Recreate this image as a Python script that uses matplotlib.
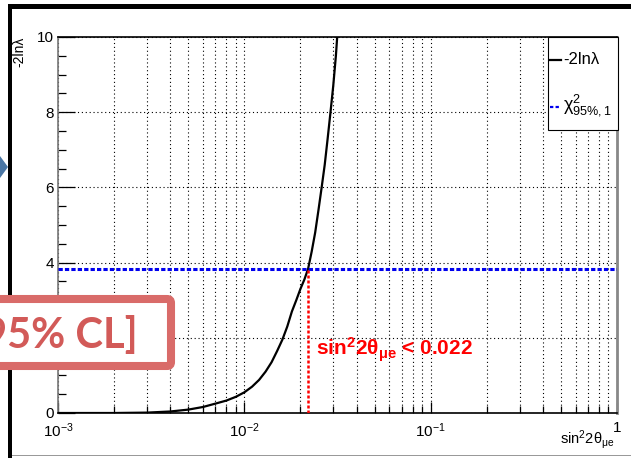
import matplotlib
matplotlib.use('Agg')
import matplotlib.pyplot as plt
from matplotlib.ticker import MultipleLocator, LogLocator, NullFormatter
from matplotlib.patches import FancyBboxPatch, Polygon, Rectangle

plt.rcParams['font.family'] = ['Liberation Sans', 'DejaVu Sans']
plt.rcParams['mathtext.fontset'] = 'custom'
plt.rcParams['mathtext.rm'] = 'Liberation Sans'
plt.rcParams['mathtext.it'] = 'Liberation Sans:italic'
plt.rcParams['mathtext.bf'] = 'Liberation Sans:bold'

# ---- data ----
sin2 = [0.001, 0.002, 0.003, 0.004, 0.005, 0.006, 0.007, 0.008, 0.009, 0.010,
        0.011, 0.012, 0.013, 0.014, 0.015, 0.016, 0.017, 0.018, 0.019, 0.020,
        0.021, 0.022, 0.023, 0.024, 0.025, 0.026, 0.027, 0.028, 0.029, 0.030,
        0.031, 0.0315]
m2lnl = [0.0, 0.0, 0.01, 0.04, 0.09, 0.16, 0.25, 0.33, 0.43, 0.55,
         0.70, 0.88, 1.10, 1.35, 1.65, 1.95, 2.30, 2.70, 3.00, 3.30,
         3.55, 3.84, 4.30, 4.80, 5.40, 6.00, 6.60, 7.30, 8.00, 8.70,
         9.50, 10.0]
chi2_95 = 3.84
limit = 0.022
xticks = [1e-3, 1e-2, 1e-1, 1]
xticklabels = ['$10^{-3}$', '$10^{-2}$', '$10^{-1}$', '1']

W, H = 631, 458
fig = plt.figure(figsize=(W / 100, H / 100), dpi=100)


def px(x0, y0, x1, y1):
    return [x0 / W, 1 - y1 / H, (x1 - x0) / W, (y1 - y0) / H]


ax = fig.add_axes(px(58, 37, 617, 413))
ax.set_xscale('log')
ax.set_xlim(1e-3, 1)
ax.set_ylim(0, 10)

ax.plot(sin2, m2lnl, color='black', lw=1.6, zorder=3)
ax.axhline(chi2_95, color='#0000ee', lw=2.2, ls=(0, (1.4, 0.7)), zorder=4)
ax.plot([limit, limit], [0, chi2_95], color='#ff0000', lw=1.8,
        ls=(0, (1.2, 0.8)), zorder=4)

ax.set_xticks(xticks)
ax.set_xticklabels(xticklabels)
ax.xaxis.set_minor_locator(LogLocator(base=10, subs=range(2, 10)))
ax.xaxis.set_minor_formatter(NullFormatter())
ax.yaxis.set_major_locator(MultipleLocator(2))
ax.yaxis.set_minor_locator(MultipleLocator(0.5))

ax.grid(which='major', axis='both', color='black', ls=(0, (1, 2.5)), lw=0.8)
ax.grid(which='minor', axis='x', color='black', ls=(0, (1, 2.5)), lw=0.8)

ax.tick_params(axis='x', which='major', direction='in', length=8, width=0.9,
               labelsize=11, pad=6)
ax.tick_params(axis='x', which='minor', direction='in', length=5, width=0.9)
ax.tick_params(axis='y', which='major', direction='in', length=12, width=0.9,
               labelsize=11, pad=3)
ax.tick_params(axis='y', which='minor', direction='in', length=6, width=0.9)

ax.spines['left'].set_color('#777777')
ax.spines['left'].set_linewidth(1.2)
ax.spines['right'].set_color('#888888')
ax.spines['right'].set_linewidth(2)
ax.spines['top'].set_linewidth(1.2)
ax.spines['bottom'].set_linewidth(1.2)

# ---- overlay in pixel coordinates ----
ov = fig.add_axes([0, 0, 1, 1], zorder=10)
ov.set_xlim(0, W)
ov.set_ylim(H, 0)
ov.axis('off')

# legend
ov.add_patch(Rectangle((548, 37), 70, 93, fc='white', ec='black', lw=0.8))
ov.plot([550, 561], [60, 60], color='black', lw=1.6)
ov.text(563, 60, '-2lnλ', fontsize=12, va='center', ha='left')
ov.plot([550, 561], [107, 107], color='#0000ee', lw=1.6, ls=(0, (1.5, 1)))
ov.text(563, 105, 'χ$^{2}_{95\\%,1}$', fontsize=13, va='center', ha='left')

# axis titles
ov.text(19, 37, '-2lnλ', fontsize=10, rotation=90, ha='center', va='top')
ov.text(614, 444, 'sin$^{2}$2θ$_{\\mathrm{μe}}$', fontsize=10.5,
        ha='right', va='baseline')

# limit annotation
ov.text(316, 350, 'sin$^{\\mathbf{2}}$2θ$_{\\mathbf{μe}}$ < 0.022',
        fontsize=15, fontweight='bold', color='#ff0000', ha='left', va='center')

# slide decorations
ov.add_patch(Rectangle((8, 4), W - 8, 5, color='black', lw=0))
ov.add_patch(Rectangle((8, 4), 4, H - 4, color='black', lw=0))
ov.add_patch(Rectangle((12, 454.5), W - 12, 1.5, color='#999999', lw=0))
ov.add_patch(Polygon([(0, 156), (8, 167), (0, 178)], closed=True,
                     color='#4a76a4', lw=0))
ov.add_patch(FancyBboxPatch((-20, 299), 191, 67,
                            boxstyle='round,pad=0,rounding_size=4',
                            fc='white', ec='#d96b69', lw=5.8))
ov.text(138, 348, '95% CL]', fontsize=30, fontweight='bold',
        family=['Lato', 'DejaVu Sans'], color='#d25a58',
        ha='right', va='baseline')

fig.savefig('out.png', dpi=100)
